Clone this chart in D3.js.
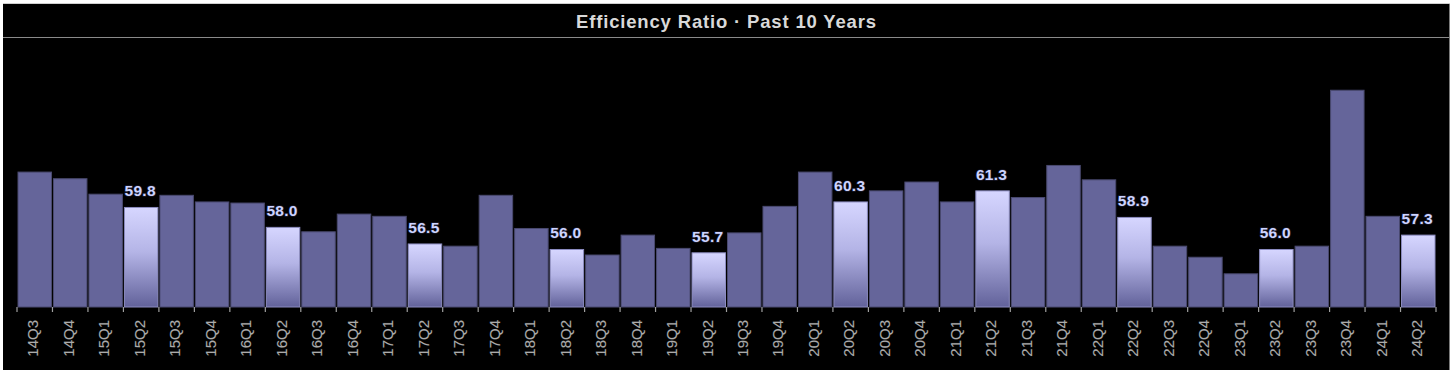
<!DOCTYPE html>
<html>
<head>
<meta charset="utf-8">
<script src="https://cdn.jsdelivr.net/npm/d3@7"></script>
<style>
  html, body { margin: 0; padding: 0; background: #ffffff; }
  svg { display: block; }
</style>
</head>
<body>
<svg id="chart" width="1456" height="374"></svg>
<script>
const title = "Efficiency Ratio \u00b7 Past 10 Years";
const quarters = ["14Q3","14Q4","15Q1","15Q2","15Q3","15Q4","16Q1","16Q2","16Q3","16Q4","17Q1","17Q2","17Q3","17Q4","18Q1","18Q2","18Q3","18Q4","19Q1","19Q2","19Q3","19Q4","20Q1","20Q2","20Q3","20Q4","21Q1","21Q2","21Q3","21Q4","22Q1","22Q2","22Q3","22Q4","23Q1","23Q2","23Q3","23Q4","24Q1","24Q2"];
const values = [63.0,62.4,61.0,59.8,60.9,60.3,60.2,58.0,57.6,59.2,59.0,56.5,56.3,60.9,57.9,56.0,55.5,57.3,56.1,55.7,57.5,59.9,63.0,60.3,61.3,62.1,60.3,61.3,60.7,63.6,62.3,58.9,56.3,55.3,53.8,56.0,56.3,70.4,59.0,57.3];
const highlighted = ["15Q2","16Q2","17Q2","18Q2","19Q2","20Q2","21Q2","22Q2","23Q2","24Q2"];
const yDomain = [50.8, 73];

const data = quarters.map((q, i) => ({q, v: values[i], hi: highlighted.includes(q)}));

const svg = d3.select("#chart");

// panel
svg.append("rect").attr("x", 3).attr("y", 4).attr("width", 1446).attr("height", 366).attr("fill", "#000");
svg.append("line").attr("x1", 3).attr("x2", 1450).attr("y1", 3.5).attr("y2", 3.5).attr("stroke", "#cfcfcf");
svg.append("line").attr("x1", 1449.5).attr("x2", 1449.5).attr("y1", 4).attr("y2", 370).attr("stroke", "#7a7a7a");
svg.append("line").attr("x1", 3).attr("x2", 1449).attr("y1", 37.5).attr("y2", 37.5).attr("stroke", "#8a8a8a").attr("stroke-width", 1.2);

svg.append("text")
  .attr("x", 726).attr("y", 27.5)
  .attr("text-anchor", "middle")
  .attr("font-family", "Liberation Sans, Arial, sans-serif")
  .attr("font-weight", "bold").attr("font-size", 18.5)
  .attr("textLength", 300).attr("lengthAdjust", "spacing")
  .attr("fill", "#d9d9d9")
  .text(title);

const defs = svg.append("defs");
const grad = defs.append("linearGradient").attr("id", "hiGrad").attr("x1", 0).attr("y1", 0).attr("x2", 0).attr("y2", 1);
grad.append("stop").attr("offset", "0%").attr("stop-color", "#d6d6ff");
grad.append("stop").attr("offset", "45%").attr("stop-color", "#b4b4e6");
grad.append("stop").attr("offset", "100%").attr("stop-color", "#62629a");

const x = d3.scaleBand().domain(quarters).range([17, 1436]).padding(0);
const y = d3.scaleLinear().domain(yDomain).range([307, 61.5]);
const base = y(yDomain[0]);

svg.append("g").selectAll("rect").data(data).join("rect")
  .attr("x", d => x(d.q) + 1)
  .attr("y", d => y(d.v))
  .attr("width", x.bandwidth() - 2)
  .attr("height", d => base - y(d.v))
  .attr("fill", d => d.hi ? "url(#hiGrad)" : "#65659a")
  .attr("stroke", d => d.hi ? "#8c8cc0" : "#4a4a70")
  .attr("stroke-width", 1);

// axis
const axis = d3.axisBottom(x).tickSize(0).tickPadding(0);
const gx = svg.append("g").attr("transform", `translate(0,${base})`).call(axis);
gx.select(".domain").remove();
gx.selectAll(".tick text")
  .attr("transform", "rotate(-90)")
  .attr("x", -13).attr("y", -1.5)
  .attr("dy", "0.35em")
  .attr("text-anchor", "end")
  .attr("font-family", "Liberation Sans, Arial, sans-serif")
  .attr("font-size", 15)
  .attr("fill", "#ababab")
  .attr("stroke", "#222")
  .attr("stroke-width", 0.6)
  .attr("paint-order", "stroke");

// boundary ticks
const bounds = quarters.map(q => x(q)).concat([x(quarters[quarters.length - 1]) + x.bandwidth()]);
svg.append("g").selectAll("line").data(bounds).join("line")
  .attr("x1", d => d).attr("x2", d => d)
  .attr("y1", base).attr("y2", base + 5)
  .attr("stroke", "#a0a0a0").attr("stroke-width", 1.2);

// value labels
svg.append("g").selectAll("text").data(data.filter(d => d.hi)).join("text")
  .attr("x", d => x(d.q) + x.bandwidth() / 2 - 1)
  .attr("y", d => y(d.v) - 11)
  .attr("text-anchor", "middle")
  .attr("font-family", "Liberation Sans, Arial, sans-serif")
  .attr("font-weight", "bold").attr("font-size", 15.5)
  .attr("letter-spacing", 0.3)
  .attr("fill", "#cdd4ff")
  .attr("stroke", "#1a1a2a").attr("stroke-width", 1.5)
  .attr("paint-order", "stroke")
  .text(d => d.v.toFixed(1));
</script>
</body>
</html>
